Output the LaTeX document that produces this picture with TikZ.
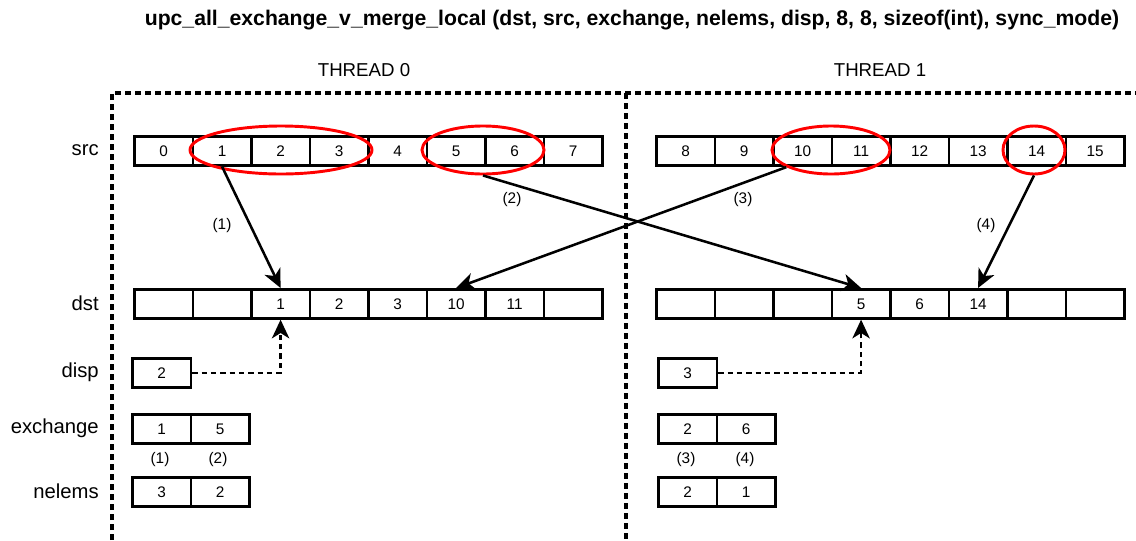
\documentclass[tikz,border=0pt]{standalone}
\usepackage{fontspec}
\setmainfont{Liberation Sans}
\usetikzlibrary{arrows.meta,shapes.geometric}

\begin{document}
\begin{tikzpicture}[x=0.75pt,y=-0.75pt,
  cell/.style={draw,line width=2pt,minimum width=43.875pt,minimum height=21.75pt,
    inner sep=0pt,anchor=north west,font=\fontsize{11.5}{13}\selectfont},
  rowlabel/.style={anchor=east,inner sep=0pt,font=\fontsize{15.2}{17}\selectfont},
  threadlabel/.style={inner sep=0pt,font=\fontsize{14}{16}\selectfont},
  tag/.style={inner sep=0pt,font=\fontsize{11.5}{13}\selectfont},
  sel/.style={draw=red,line width=2.2pt,ellipse,inner sep=0pt},
  boxline/.style={line width=2.3pt,dash pattern=on 4.5pt off 3pt},
  move/.style={line width=1.9pt,-{Stealth[length=14pt,width=13pt,inset=4pt]}},
  offset/.style={line width=2pt,dash pattern=on 4pt off 3pt,-{Stealth[length=14pt,width=13pt,inset=4pt]}}
]
\path[use as bounding box] (0,0) rectangle (1136,540);

% title
\node[inner sep=0pt,font=\bfseries\fontsize{15.9}{18}\selectfont] (title) at (632,20)
  {upc\_all\_exchange\_v\_merge\_local (dst, src, exchange, nelems, disp, 8, 8, sizeof(int), sync\_mode)};

% thread regions
\node[threadlabel] (t0) at (364,70) {THREAD 0};
\node[threadlabel] (t1) at (880,70) {THREAD 1};
\draw[boxline] (112,540) -- (112,93) -- (1136,93);
\draw[boxline] (626,93) -- (626,540);

% row labels
\node[rowlabel] (lsrc) at (99,150) {src};
\node[rowlabel] (ldst) at (99,303) {dst};
\node[rowlabel] (ldisp) at (99,372) {disp};
\node[rowlabel] (lexch) at (99,428) {exchange};
\node[rowlabel] (lnel) at (99,491) {nelems};

% src arrays
\foreach \v [count=\i from 0] in {0,...,7}
  \node[cell] (s\v) at ({133+58.5*\i},135) {\v};
\foreach \v [count=\i from 0] in {8,...,15}
  \node[cell] (s\v) at ({655+58.5*\i},135) {\v};

% dst arrays
\foreach \v [count=\i from 0] in {{},{},1,2,3,10,11,{}}
  \node[cell] (d\i) at ({133+58.5*\i},288) {\v};
\foreach \v [count=\i from 8] in {{},{},{},5,6,14,{},{}}
  \node[cell] (d\i) at ({655+58.5*(\i-8)},288) {\v};

% disp
\node[cell] (p0) at (131,357) {2};
\node[cell] (p1) at (657,357) {3};

% exchange and nelems
\node[cell] (x0) at (131,413) {1};
\node[cell] (x1) at (189.5,413) {5};
\node[cell] (x2) at (657,413) {2};
\node[cell] (x3) at (715.5,413) {6};
\node[cell] (n0) at (131,476) {3};
\node[cell] (n1) at (189.5,476) {2};
\node[cell] (n2) at (657,476) {2};
\node[cell] (n3) at (715.5,476) {1};
\node[tag] (xt1) at (160,460) {(1)};
\node[tag] (xt2) at (218,460) {(2)};
\node[tag] (xt3) at (686,460) {(3)};
\node[tag] (xt4) at (745,460) {(4)};

% selected source blocks
\node[sel,minimum width=136.5pt,minimum height=36pt] (e1) at (281,150) {};
\node[sel,minimum width=91.5pt,minimum height=36pt] (e2) at (483,150) {};
\node[sel,minimum width=88.5pt,minimum height=36pt] (e3) at (831,150) {};
\node[sel,minimum width=46.5pt,minimum height=36pt] (e4) at (1034,150) {};

% block moves
\draw[move] (s1.south) -- (d2.north);
\draw[move] (e2.south) -- (d11.north);
\draw[move] (e3.201) -- (d5.north);
\draw[move] (e4.south) -- (d13.north);
\node[tag] (m1) at (222,226) {(1)};
\node[tag] (m2) at (512,200) {(2)};
\node[tag] (m3) at (743,200) {(3)};
\node[tag] (m4) at (986,226) {(4)};

% displacements
\draw[offset] (p0.east) -| (d2.south);
\draw[offset] (p1.east) -| (d11.south);
\end{tikzpicture}
\end{document}
